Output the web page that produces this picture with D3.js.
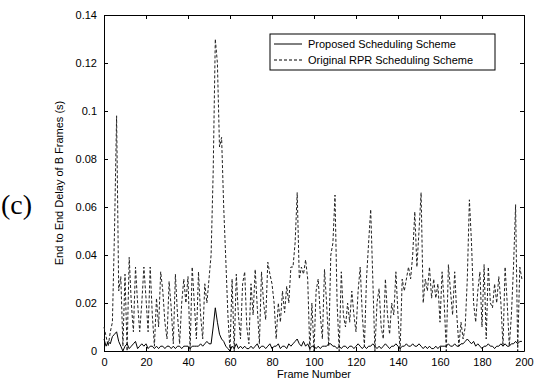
<!DOCTYPE html>
<html>
<head>
<meta charset="utf-8">
<script src="https://cdn.jsdelivr.net/npm/d3@7"></script>
<style>
  body { margin: 0; background: #fff; }
  svg text { font-family: "Liberation Sans", Arial, sans-serif; }
</style>
</head>
<body>
<div id="chart"></div>
<script>
// frame numbers 0..199
const frames = d3.range(0, 200);

// Original RPR scheduling scheme (dotted)
const original = [
  0.010, 0.006, 0.002, 0.008, 0.012, 0.050, 0.098, 0.025, 0.031, 0.002,
  0.032, 0.000, 0.039, 0.020, 0.008, 0.035, 0.020, 0.008, 0.020, 0.035,
  0.022, 0.008, 0.035, 0.015, 0.002, 0.022, 0.010, 0.033, 0.025, 0.012,
  0.005, 0.029, 0.018, 0.003, 0.032, 0.015, 0.003, 0.020, 0.030, 0.020,
  0.031, 0.000, 0.035, 0.020, 0.005, 0.033, 0.015, 0.005, 0.028, 0.020,
  0.030, 0.040, 0.075, 0.130, 0.120, 0.085, 0.089, 0.060, 0.038, 0.015,
  0.000, 0.030, 0.000, 0.032, 0.015, 0.005, 0.028, 0.033, 0.010, 0.003,
  0.028, 0.015, 0.034, 0.018, 0.003, 0.033, 0.020, 0.013, 0.037, 0.032,
  0.028, 0.020, 0.005, 0.020, 0.012, 0.025, 0.016, 0.027, 0.020, 0.035,
  0.035, 0.045, 0.066, 0.030, 0.035, 0.032, 0.038, 0.030, 0.000, 0.020,
  0.000, 0.025, 0.030, 0.015, 0.005, 0.034, 0.020, 0.002, 0.040, 0.045,
  0.065, 0.020, 0.000, 0.033, 0.015, 0.010, 0.020, 0.012, 0.025, 0.015,
  0.008, 0.025, 0.035, 0.015, 0.002, 0.030, 0.045, 0.059, 0.030, 0.000,
  0.020, 0.026, 0.010, 0.005, 0.030, 0.015, 0.007, 0.020, 0.015, 0.033,
  0.015, 0.000, 0.030, 0.025, 0.030, 0.035, 0.030, 0.040, 0.058, 0.035,
  0.050, 0.066, 0.020, 0.030, 0.025, 0.035, 0.022, 0.030, 0.022, 0.028,
  0.012, 0.033, 0.020, 0.000, 0.036, 0.025, 0.015, 0.033, 0.015, 0.002,
  0.012, 0.005, 0.010, 0.030, 0.063, 0.045, 0.020, 0.012, 0.025, 0.033,
  0.010, 0.036, 0.005, 0.035, 0.020, 0.018, 0.028, 0.020, 0.031, 0.020,
  0.002, 0.035, 0.020, 0.002, 0.015, 0.035, 0.061, 0.000, 0.035, 0.030
];

// Proposed scheduling scheme (solid)
const proposed = [
  0.005, 0.002, 0.004, 0.003, 0.006, 0.007, 0.008, 0.004, 0.002, 0.000,
  0.002, 0.003, 0.001, 0.002, 0.003, 0.004, 0.001, 0.002, 0.003, 0.002,
  0.003, 0.001, 0.002, 0.002, 0.001, 0.002, 0.001, 0.002, 0.002, 0.001,
  0.002, 0.002, 0.001, 0.002, 0.001, 0.002, 0.002, 0.001, 0.002, 0.002,
  0.002, 0.001, 0.002, 0.002, 0.002, 0.002, 0.003, 0.002, 0.003, 0.004,
  0.003, 0.003, 0.010, 0.018, 0.012, 0.007, 0.005, 0.004, 0.002, 0.001,
  0.000, 0.002, 0.001, 0.003, 0.001, 0.002, 0.001, 0.002, 0.001, 0.001,
  0.002, 0.001, 0.002, 0.003, 0.001, 0.002, 0.002, 0.001, 0.002, 0.003,
  0.001, 0.002, 0.002, 0.003, 0.001, 0.002, 0.002, 0.001, 0.003, 0.002,
  0.003, 0.004, 0.005, 0.003, 0.002, 0.004, 0.002, 0.003, 0.001, 0.002,
  0.002, 0.001, 0.002, 0.001, 0.002, 0.002, 0.002, 0.003, 0.003, 0.002,
  0.002, 0.001, 0.002, 0.001, 0.002, 0.002, 0.001, 0.002, 0.002, 0.001,
  0.002, 0.003, 0.002, 0.001, 0.002, 0.001, 0.002, 0.002, 0.003, 0.002,
  0.001, 0.002, 0.001, 0.002, 0.003, 0.002, 0.001, 0.002, 0.002, 0.003,
  0.002, 0.001, 0.002, 0.002, 0.003, 0.002, 0.002, 0.003, 0.002, 0.002,
  0.003, 0.002, 0.001, 0.002, 0.001, 0.002, 0.001, 0.001, 0.002, 0.001,
  0.002, 0.002, 0.002, 0.002, 0.003, 0.002, 0.002, 0.003, 0.002, 0.002,
  0.003, 0.003, 0.004, 0.005, 0.004, 0.003, 0.004, 0.002, 0.003, 0.002,
  0.001, 0.002, 0.002, 0.003, 0.002, 0.002, 0.001, 0.002, 0.002, 0.003,
  0.002, 0.003, 0.002, 0.002, 0.003, 0.003, 0.004, 0.003, 0.004, 0.004
];

const xTicks = [0, 20, 40, 60, 80, 100, 120, 140, 160, 180, 200];
const yTicks = [0, 0.02, 0.04, 0.06, 0.08, 0.1, 0.12, 0.14];

const legendLabels = ["Proposed Scheduling Scheme", "Original RPR Scheduling Scheme"];

// layout
const width = 534, height = 387;
const margin = { left: 104, top: 15, right: 10, bottom: 36 };
const plotW = width - margin.left - margin.right;
const plotH = height - margin.top - margin.bottom;

const svg = d3.select("#chart").append("svg")
  .attr("width", width)
  .attr("height", height);

const x = d3.scaleLinear().domain([0, 200]).range([margin.left, margin.left + plotW]);
const y = d3.scaleLinear().domain([0, 0.14]).range([margin.top + plotH, margin.top]);

// axes with inward ticks on all 4 sides
const tickFmt = d => d === 0 ? "0" : String(+d.toFixed(2));

svg.append("g")
  .attr("transform", "translate(0," + (margin.top + plotH) + ")")
  .call(d3.axisBottom(x).tickValues(xTicks).tickSizeInner(-4).tickSizeOuter(0).tickPadding(7))
  .call(g => g.selectAll("text").attr("font-size", 11).attr("fill", "#000"));

svg.append("g")
  .attr("transform", "translate(" + margin.left + ",0)")
  .call(d3.axisLeft(y).tickValues(yTicks).tickFormat(tickFmt).tickSizeInner(-4).tickSizeOuter(0).tickPadding(7))
  .call(g => g.selectAll("text").attr("font-size", 11).attr("fill", "#000"));

svg.append("g")
  .attr("transform", "translate(0," + margin.top + ")")
  .call(d3.axisTop(x).tickValues(xTicks).tickFormat("").tickSizeInner(-4).tickSizeOuter(0));

svg.append("g")
  .attr("transform", "translate(" + (margin.left + plotW) + ",0)")
  .call(d3.axisRight(y).tickValues(yTicks).tickFormat("").tickSizeInner(-4).tickSizeOuter(0));

svg.selectAll(".domain").attr("stroke", "#000");
svg.selectAll(".tick line").attr("stroke", "#000");

// lines
const line = d3.line()
  .x((d, i) => x(frames[i]))
  .y(d => y(d));

svg.append("path")
  .datum(original)
  .attr("fill", "none")
  .attr("stroke", "#222")
  .attr("stroke-width", 1)
  .attr("stroke-dasharray", "3,2")
  .attr("d", line);

svg.append("path")
  .datum(proposed)
  .attr("fill", "none")
  .attr("stroke", "#000")
  .attr("stroke-width", 1)
  .attr("d", line);

// legend
const lg = svg.append("g").attr("transform", "translate(270,34)");
lg.append("rect")
  .attr("width", 225).attr("height", 36)
  .attr("fill", "#fff").attr("stroke", "#000");
legendLabels.forEach((lab, i) => {
  const yy = 10 + i * 16;
  lg.append("line")
    .attr("x1", 4).attr("x2", 32).attr("y1", yy).attr("y2", yy)
    .attr("stroke", "#000")
    .attr("stroke-dasharray", i === 1 ? "3,2" : null);
  lg.append("text")
    .attr("x", 38).attr("y", yy + 4)
    .attr("font-size", 11)
    .text(lab);
});

// axis titles
svg.append("text")
  .attr("x", margin.left + plotW / 2)
  .attr("y", 378)
  .attr("text-anchor", "middle")
  .attr("font-size", 11)
  .text("Frame Number");

svg.append("text")
  .attr("transform", "translate(63," + (margin.top + plotH / 2) + ") rotate(-90)")
  .attr("text-anchor", "middle")
  .attr("font-size", 11)
  .text("End to End Delay of B Frames (s)");

svg.append("text")
  .attr("x", 1)
  .attr("y", 214)
  .style("font-family", "'Liberation Serif', serif")
  .attr("font-size", 28)
  .text("(c)");
</script>
</body>
</html>
